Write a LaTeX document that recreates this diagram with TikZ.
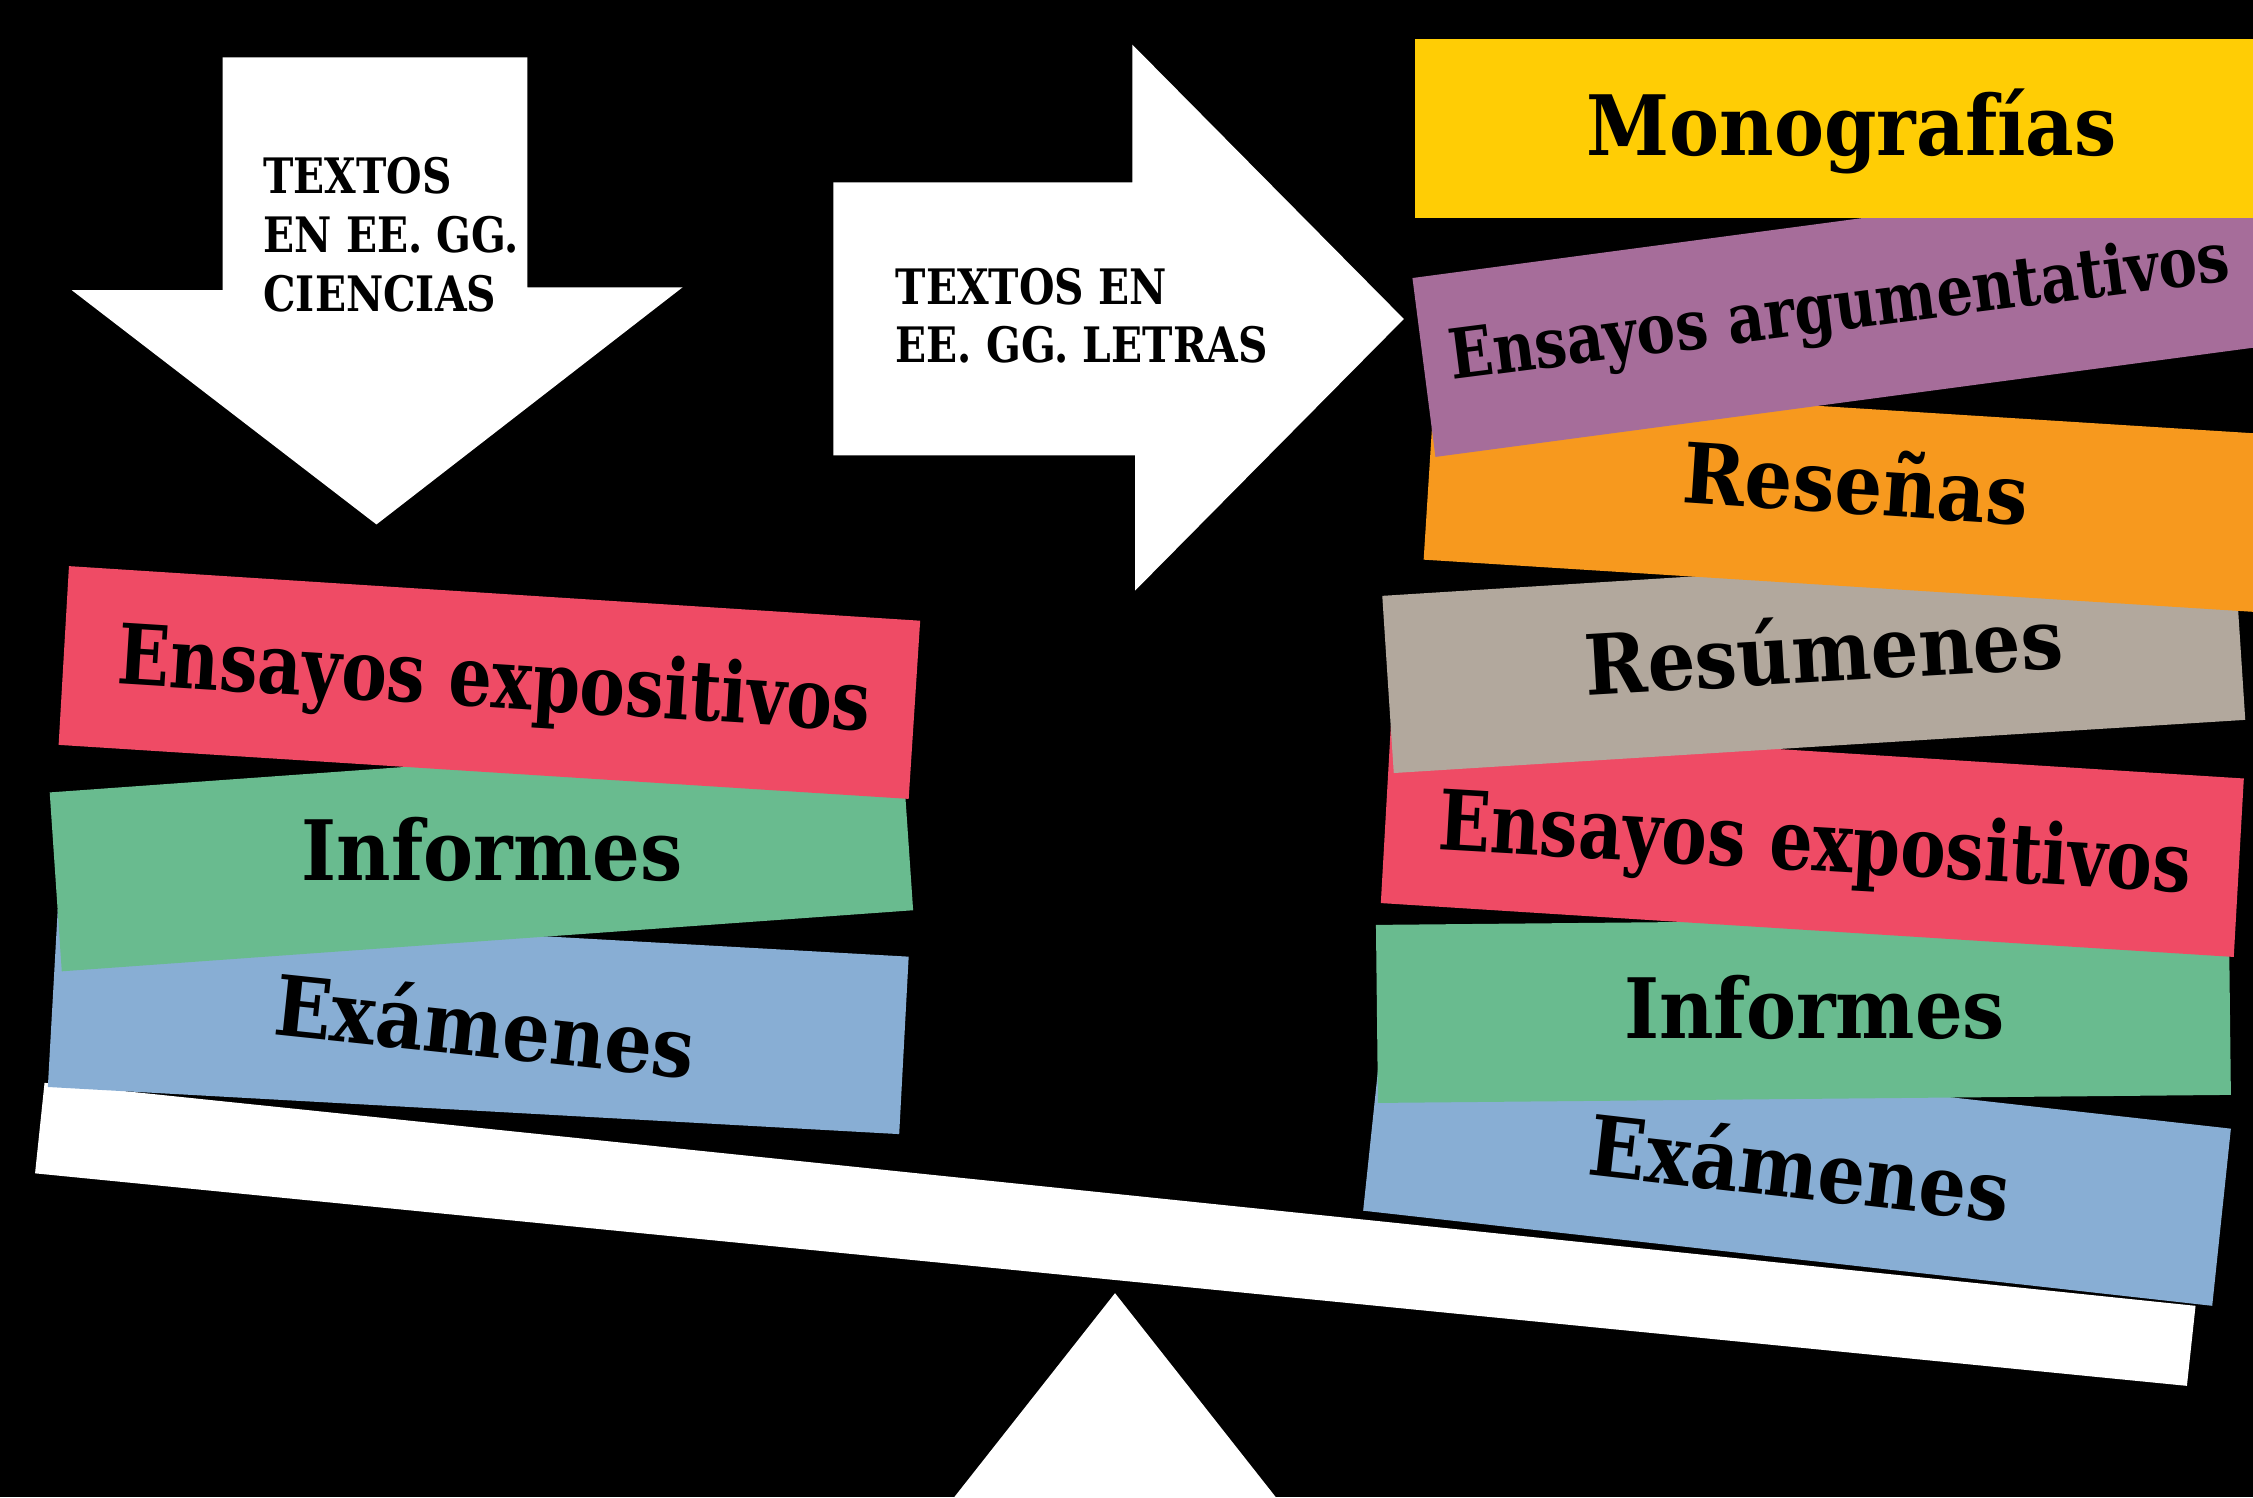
\documentclass[tikz,border=0pt]{standalone}
\usepackage{fontspec}
\setmainfont{DejaVu Serif}[FakeStretch=0.9]
\newfontfamily\narrowfont{DejaVu Serif}[FakeStretch=0.835]
\newfontfamily\narrowerfont{DejaVu Serif}[FakeStretch=0.818]
\definecolor{cyel}{HTML}{FFCD05}
\definecolor{cpur}{HTML}{A66D9A}
\definecolor{cora}{HTML}{F7991E}
\definecolor{cgry}{HTML}{B2A89D}
\definecolor{cred}{HTML}{EF4B65}
\definecolor{cgrn}{HTML}{69BB8F}
\definecolor{cblu}{HTML}{88AED4}
\begin{document}
\begin{tikzpicture}[x=0.5pt,y=-0.5pt,
  lab/.style={inner sep=0pt, anchor=base west, text=black, font=\bfseries\fontsize{29}{34}\selectfont},
  narrowlab/.style={lab, font=\narrowerfont\bfseries\fontsize{29}{34}\selectfont},
  smalllab/.style={inner sep=0pt, anchor=north west, align=left, text=black, font=\narrowfont\bfseries\fontsize{17}{20.5}\selectfont},
]
\useasboundingbox (0,0) rectangle (1568,1042);
\fill[black] (0,0) rectangle (1568,1042);
\clip (0,0) rectangle (1568,1042);

% arrows
\fill[white] (155,40) -- (367,40) -- (367,200) -- (475,200) -- (262,365) -- (50,202) -- (155,202) -- cycle;
\fill[white] (580,127) -- (788,127) -- (788,31) -- (977,222) -- (790,411) -- (790,317) -- (580,317) -- cycle;
\node[smalllab] (tc) at (183,109) {TEXTOS\\EN EE. GG.\\CIENCIAS};
\node[smalllab] (tl) at (623,186) {TEXTOS EN\\EE. GG. LETRAS};

% fulcrum and beam
\fill[white] (776,900) -- (910,1070) -- (642,1070) -- cycle;
\fill[white] (31,753.6) -- (1528,908.8) -- (1522,964.5) -- (24.4,816.6) -- cycle;

% left stack
\fill[cblu] (40.2,632.7) -- (632.4,665.8) -- (625.8,789.3) -- (33.3,756.5) -- cycle;
\fill[cgrn] (34.6,551.5) -- (627,509) -- (635.5,633.5) -- (43,676) -- cycle;
\fill[cred] (48,394) -- (640.4,432) -- (632.4,556) -- (40.8,518.4) -- cycle;
\node[narrowlab, rotate=-3.6] (le) at (81,476) {Ensayos expositivos};
\node[lab] (li) at (209.5,613) {Informes};
\node[lab, rotate=-6] (lx) at (189,720) {Exámenes};

% right stack
\fill[cblu] (961.7,719.3) -- (1552.6,785.5) -- (1539.6,908.8) -- (948.7,842.6) -- cycle;
\fill[cgrn] (957.6,643.7) -- (1551.2,638.1) -- (1552.6,762) -- (959,767.6) -- cycle;
\fill[cred] (968,504.3) -- (1561.6,541.8) -- (1554.6,666) -- (961,628.5) -- cycle;
\fill[cgry] (962,414.7) -- (1554.6,377.7) -- (1562.6,501) -- (970,538) -- cycle;
\fill[cora] (998.6,265.7) -- (1647.3,306.5) -- (1639.5,430.3) -- (990.8,389.5) -- cycle;
\fill[cpur] (983,193.5) -- (1627,107.7) -- (1643,232) -- (999,318) -- cycle;
\fill[cyel] (985,27) -- (1600,27) -- (1600,152) -- (985,152) -- cycle;

\node[lab] (rm) at (1104,108) {Monografías};
\node[lab, rotate=7.3, font=\narrowfont\bfseries\fontsize{24}{29}\selectfont] (ra) at (1010.5,264.5) {Ensayos argumentativos};
\node[lab, rotate=-3.8] (rr) at (1170,349.7) {Reseñas};
\node[lab, rotate=3.3] (rs) at (1104,484) {Resúmenes};
\node[narrowlab, rotate=-3.3] (re) at (1000,591) {Ensayos expositivos};
\node[lab] (ri) at (1130,723) {Informes};
\node[lab, rotate=-6.5] (rx) at (1104,817.4) {Exámenes};
\end{tikzpicture}
\end{document}
